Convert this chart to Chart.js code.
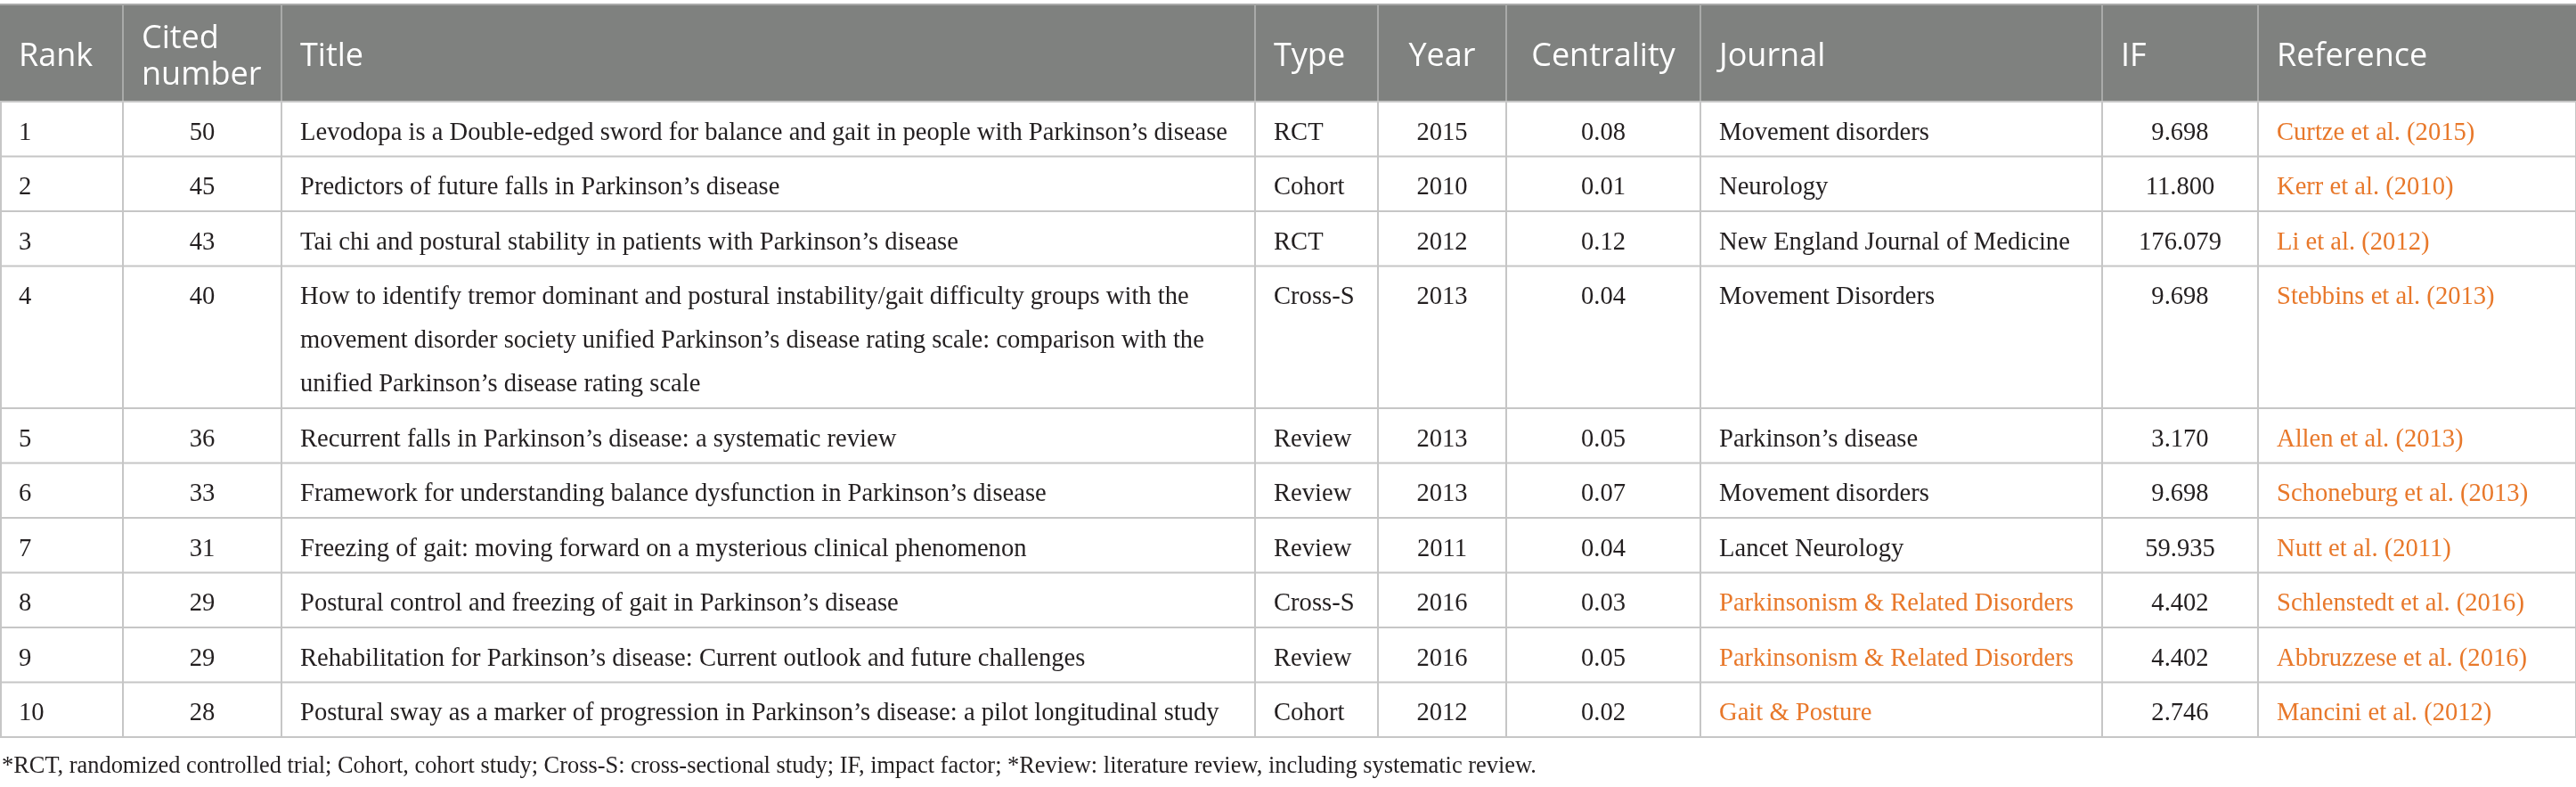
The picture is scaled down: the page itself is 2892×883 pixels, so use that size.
<!DOCTYPE html>
<html>
<head>
<meta charset="utf-8">
<script src="https://cdn.jsdelivr.net/npm/chart.js@4.4.1/dist/chart.umd.min.js"></script>
<style>
    html, body { margin: 0; padding: 0; background: #fff; }
    #wrap { width: 2892px; height: 883px; }
</style>
</head>
<body>
<div id="wrap"><canvas id="myChart"></canvas></div>
<script>
    // table content
    var headers = ['Rank', ['Cited', 'number'], 'Title', 'Type', 'Year', 'Centrality', 'Journal', 'IF', 'Reference'];
    var ranks = ['1', '2', '3', '4', '5', '6', '7', '8', '9', '10'];
    var cited = ['50', '45', '43', '40', '36', '33', '31', '29', '29', '28'];
    var titles = [
        ['Levodopa is a Double-edged sword for balance and gait in people with Parkinson\u2019s disease'],
        ['Predictors of future falls in Parkinson\u2019s disease'],
        ['Tai chi and postural stability in patients with Parkinson\u2019s disease'],
        ['How to identify tremor dominant and postural instability/gait difficulty groups with the',
         'movement disorder society unified Parkinson\u2019s disease rating scale: comparison with the',
         'unified Parkinson\u2019s disease rating scale'],
        ['Recurrent falls in Parkinson\u2019s disease: a systematic review'],
        ['Framework for understanding balance dysfunction in Parkinson\u2019s disease'],
        ['Freezing of gait: moving forward on a mysterious clinical phenomenon'],
        ['Postural control and freezing of gait in Parkinson\u2019s disease'],
        ['Rehabilitation for Parkinson\u2019s disease: Current outlook and future challenges'],
        ['Postural sway as a marker of progression in Parkinson\u2019s disease: a pilot longitudinal study']
    ];
    var types = ['RCT', 'Cohort', 'RCT', 'Cross-S', 'Review', 'Review', 'Review', 'Cross-S', 'Review', 'Cohort'];
    var years = ['2015', '2010', '2012', '2013', '2013', '2013', '2011', '2016', '2016', '2012'];
    var centrality = ['0.08', '0.01', '0.12', '0.04', '0.05', '0.07', '0.04', '0.03', '0.05', '0.02'];
    var journals = ['Movement disorders', 'Neurology', 'New England Journal of Medicine', 'Movement Disorders',
        'Parkinson\u2019s disease', 'Movement disorders', 'Lancet Neurology', 'Parkinsonism & Related Disorders',
        'Parkinsonism & Related Disorders', 'Gait & Posture'];
    var impactFactors = ['9.698', '11.800', '176.079', '9.698', '3.170', '9.698', '59.935', '4.402', '4.402', '2.746'];
    var references = ['Curtze et al. (2015)', 'Kerr et al. (2010)', 'Li et al. (2012)', 'Stebbins et al. (2013)',
        'Allen et al. (2013)', 'Schoneburg et al. (2013)', 'Nutt et al. (2011)', 'Schlenstedt et al. (2016)',
        'Abbruzzese et al. (2016)', 'Mancini et al. (2012)'];
    var footnote = '*RCT, randomized controlled trial; Cohort, cohort study; Cross-S: cross-sectional study; IF, impact factor; *Review: literature review, including systematic review.';

    // layout (in scale units, which map 1:1 to pixels)
    var colEdges = [0, 138, 316, 1409, 1547, 1691, 1909, 2360, 2535, 2892];
    var colAlign = ['left', 'center', 'left', 'left', 'center', 'center', 'left', 'center', 'left'];
    var linkedJournalRows = [7, 8, 9];
    var headTop = 5, headBottom = 114, rowH = 61.5, lineH = 49;
    var pad = 21;
    var grey = '#7f817f', rule = '#c6c6c6', ink = '#231f20', orange = '#e8782a';
    var bodyFont = '28.6px "Liberation Serif", serif';
    var headFont = '36px "Open Sans", sans-serif';

    var tablePlugin = {
        id: 'tableCells',
        afterDraw: function (chart) {
            var ctx = chart.ctx;
            var xs = chart.scales.x, ys = chart.scales.y;
            var X = function (v) { return xs.getPixelForValue(v); };
            var Y = function (v) { return ys.getPixelForValue(v); };
            var last = colEdges.length - 1;

            ctx.save();
            // header band
            ctx.fillStyle = grey;
            ctx.fillRect(X(0), Y(headTop), X(colEdges[last]) - X(0), Y(headBottom) - Y(headTop));
            ctx.strokeStyle = '#a9aaa9';
            ctx.lineWidth = 2;
            ctx.beginPath();
            ctx.moveTo(X(0), Y(headTop)); ctx.lineTo(X(colEdges[last]), Y(headTop));
            for (var c = 1; c < last; c++) {
                ctx.moveTo(X(colEdges[c]), Y(headTop)); ctx.lineTo(X(colEdges[c]), Y(headBottom));
            }
            ctx.stroke();

            ctx.font = headFont;
            ctx.fillStyle = '#ffffff';
            ctx.textBaseline = 'alphabetic';
            headers.forEach(function (h, c) {
                var lines = Array.isArray(h) ? h : [h];
                var base = lines.length === 1 ? 74 : 54;
                var align = (c === 4 || c === 5) ? 'center' : 'left';
                ctx.textAlign = align;
                var tx = align === 'center' ? X((colEdges[c] + colEdges[c + 1]) / 2) : X(colEdges[c] + pad);
                lines.forEach(function (ln, i) { ctx.fillText(ln, tx, Y(base + i * 41)); });
            });

            // body rows
            var top = headBottom;
            var rowTops = [];
            titles.forEach(function (t, r) {
                rowTops.push(top);
                top += rowH + (t.length - 1) * lineH;
            });
            rowTops.push(top);

            ctx.strokeStyle = rule;
            ctx.lineWidth = 2;
            ctx.beginPath();
            rowTops.forEach(function (ty) {
                ctx.moveTo(X(0), Y(ty)); ctx.lineTo(X(colEdges[last]), Y(ty));
            });
            colEdges.forEach(function (cx) {
                ctx.moveTo(X(cx === 0 ? 1 : cx), Y(headBottom)); ctx.lineTo(X(cx === 0 ? 1 : cx), Y(top));
            });
            ctx.stroke();

            ctx.font = bodyFont;
            for (var r = 0; r < titles.length; r++) {
                var cells = [ranks[r], cited[r], titles[r], types[r], years[r], centrality[r],
                    journals[r], impactFactors[r], references[r]];
                var base = rowTops[r] + 42.5;
                cells.forEach(function (val, c) {
                    var lines = Array.isArray(val) ? val : [val];
                    ctx.textAlign = colAlign[c];
                    var tx = colAlign[c] === 'center' ? X((colEdges[c] + colEdges[c + 1]) / 2) : X(colEdges[c] + pad);
                    ctx.fillStyle = (c === 8 || (c === 6 && linkedJournalRows.indexOf(r) >= 0)) ? orange : ink;
                    lines.forEach(function (ln, i) { ctx.fillText(ln, tx, Y(base + i * lineH)); });
                });
            }

            // footnote
            ctx.font = '26.4px "Liberation Serif", serif';
            ctx.fillStyle = ink;
            ctx.textAlign = 'left';
            ctx.fillText(footnote, X(2), Y(867));
            ctx.restore();
        }
    };

    window.onload = function () {
        var ctx = document.getElementById('myChart').getContext('2d');
        var myChart = new Chart(ctx, {
            type: 'scatter',
            data: { datasets: [{ data: [], pointRadius: 0 }] },
            options: {
                responsive: true,
                maintainAspectRatio: false,
                animation: false,
                layout: { padding: 0 },
                plugins: { legend: { display: false }, tooltip: { enabled: false } },
                scales: {
                    x: { type: 'linear', min: 0, max: 2892, display: false },
                    y: { type: 'linear', min: 0, max: 883, reverse: true, display: false }
                }
            },
            plugins: [tablePlugin]
        });
    };
</script>
</body>
</html>
